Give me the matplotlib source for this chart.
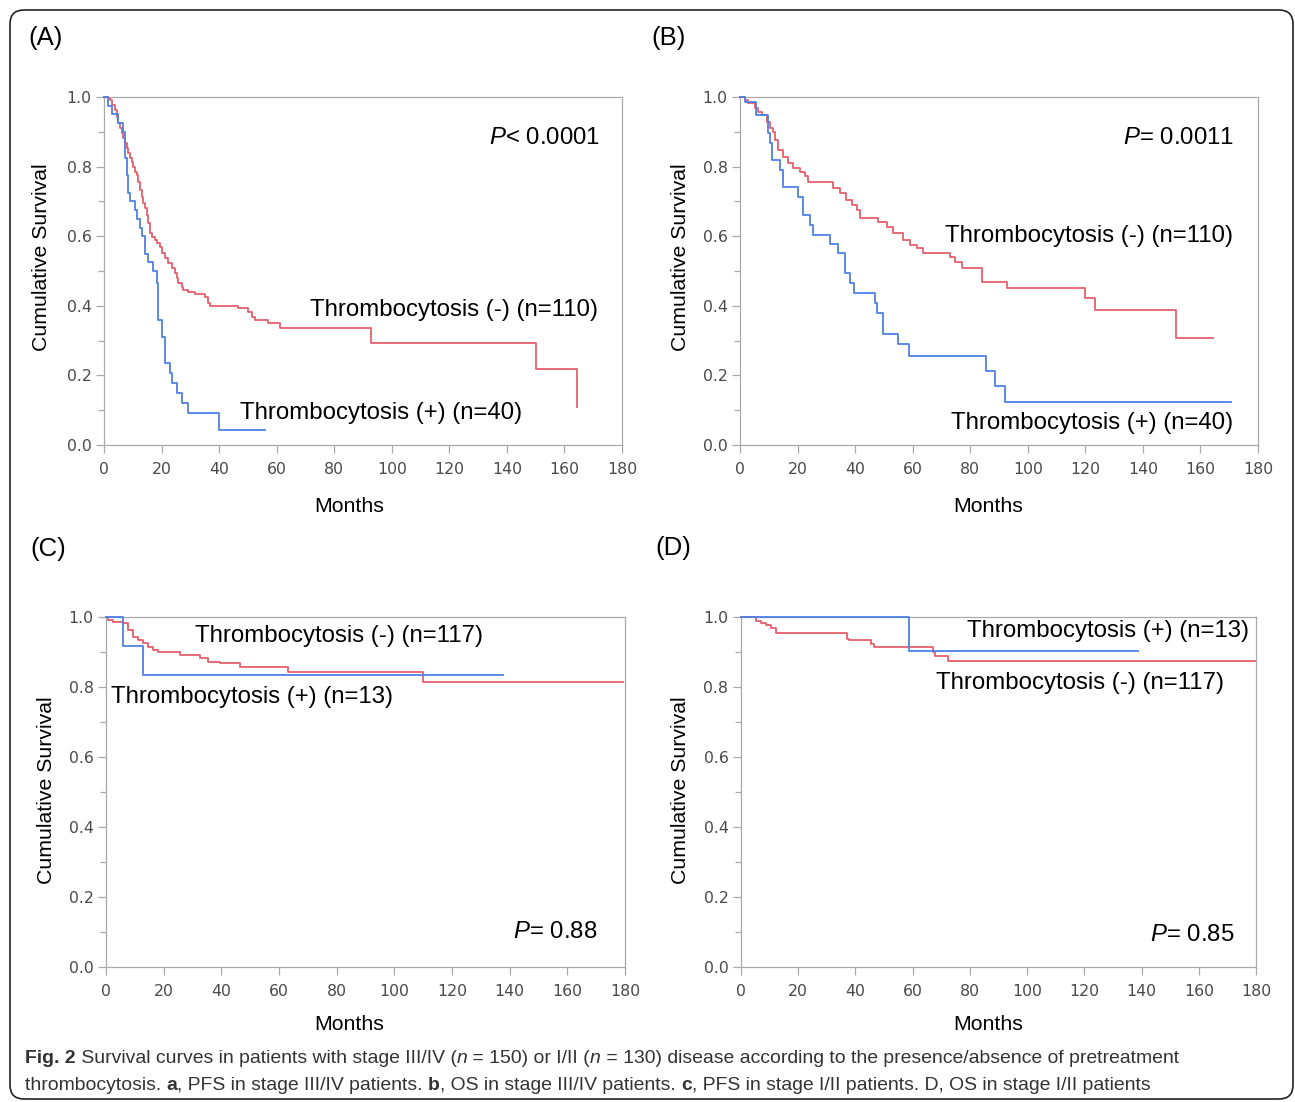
import matplotlib
matplotlib.use('Agg')
import matplotlib.pyplot as plt
from matplotlib import font_manager as fm
from matplotlib.patches import FancyBboxPatch
from matplotlib.ticker import MultipleLocator, FormatStrFormatter

W, H = 1295, 1102

# ---- data (months, cumulative survival) ----
a_neg_t = [0, 0.35, 1.5, 2.1, 2.7, 3.8, 4.4, 5.0, 5.6, 6.1, 6.7, 7.3, 7.9, 8.5, 9.0, 9.6, 10.2, 10.8,
           11.35, 11.9, 12.5, 13.1, 13.7, 14.2, 14.8, 15.4, 16.0, 16.6, 17.7, 18.3, 19.5, 20.0, 21.2,
           22.4, 23.5, 24.7, 25.3, 25.8, 27.0, 27.6, 29.3, 31.6, 35.1, 36.3, 36.8, 46.7, 50.2, 51.3,
           52.5, 57.1, 61.2, 92.8, 150.0, 164.2]
a_neg_s = [1.0, 1.0, 0.996, 0.991, 0.977, 0.963, 0.943, 0.924, 0.910, 0.896, 0.881, 0.867, 0.853,
           0.838, 0.824, 0.814, 0.800, 0.785, 0.776, 0.757, 0.733, 0.714, 0.694, 0.680, 0.661, 0.637,
           0.608, 0.599, 0.589, 0.580, 0.570, 0.551, 0.536, 0.522, 0.508, 0.493, 0.479, 0.466, 0.455,
           0.445, 0.439, 0.434, 0.426, 0.407, 0.399, 0.393, 0.383, 0.369, 0.359, 0.350, 0.337, 0.292,
           0.219, 0.108]
a_pos_t = [0, 1.5, 2.7, 4.9, 6.7, 7.3, 7.9, 8.4, 9.0, 10.8, 11.4, 12.5, 13.1, 14.2, 15.4, 17.1, 18.3,
           18.9, 20.0, 21.2, 22.9, 23.5, 25.2, 27.0, 29.3, 40.0, 56.0]
a_pos_s = [1.0, 0.975, 0.950, 0.925, 0.900, 0.825, 0.775, 0.725, 0.700, 0.675, 0.650, 0.625, 0.600,
           0.550, 0.525, 0.500, 0.465, 0.360, 0.311, 0.235, 0.206, 0.177, 0.149, 0.120, 0.091, 0.043,
           0.043]

b_neg_t = [0, 1.7, 2.9, 5.2, 6.4, 7.5, 9.3, 10.4, 11.6, 12.2, 13.3, 15.0, 16.8, 18.5, 20.8, 22.6, 23.7,
           32.4, 34.7, 37.0, 38.8, 40.5, 41.7, 48.0, 51.0, 53.3, 56.7, 59.1, 61.4, 63.7, 73.0, 74.7,
           77.0, 84.0, 92.7, 119.9, 123.3, 151.5, 164.5]
b_neg_s = [1.0, 0.991, 0.982, 0.968, 0.958, 0.948, 0.929, 0.910, 0.900, 0.876, 0.848, 0.828, 0.810,
           0.795, 0.785, 0.773, 0.757, 0.738, 0.723, 0.704, 0.690, 0.675, 0.651, 0.642, 0.627, 0.608,
           0.589, 0.575, 0.565, 0.553, 0.541, 0.527, 0.508, 0.469, 0.450, 0.421, 0.388, 0.308, 0.308]
b_pos_t = [0, 1.7, 5.6, 9.8, 10.4, 11.0, 13.9, 15.0, 20.3, 22.0, 24.3, 25.5, 31.3, 34.2, 36.5, 38.2,
           39.6, 46.9, 47.5, 49.6, 55.0, 58.8, 85.5, 88.6, 92.1, 170.5]
b_pos_s = [1.0, 0.987, 0.948, 0.896, 0.867, 0.819, 0.790, 0.742, 0.713, 0.661, 0.632, 0.603, 0.578,
           0.551, 0.493, 0.466, 0.438, 0.409, 0.380, 0.319, 0.289, 0.257, 0.213, 0.170, 0.125, 0.125]

c_neg_t = [0, 0.8, 2.5, 6.0, 7.7, 9.5, 11.2, 12.9, 14.7, 16.4, 18.2, 25.7, 32.6, 35.5, 39.5, 46.5,
           63.2, 110.1, 179.4]
c_neg_s = [1.0, 0.992, 0.987, 0.984, 0.963, 0.944, 0.934, 0.925, 0.915, 0.906, 0.901, 0.891, 0.882,
           0.872, 0.868, 0.858, 0.844, 0.815, 0.815]
c_pos_t = [0, 5.8, 12.9, 137.8]
c_pos_s = [1.0, 0.918, 0.833, 0.833]

d_neg_t = [0, 5.1, 6.9, 8.7, 10.5, 12.3, 37.0, 37.6, 45.4, 46.6, 67.0, 67.7, 72.5, 179.6]
d_neg_s = [1.0, 0.989, 0.982, 0.977, 0.968, 0.953, 0.938, 0.933, 0.923, 0.915, 0.899, 0.889, 0.874,
           0.874]
d_pos_t = [0, 58.6, 138.7]
d_pos_s = [1.0, 0.902, 0.902]

RED = '#e5606c'
BLUE = '#4d80e4'
GRID = '#a9a9a9'

fonts = {f.name for f in fm.fontManager.ttflist}
cap_font = 'Liberation Sans Narrow' if 'Liberation Sans Narrow' in fonts else 'Liberation Sans'

plt.rcParams['mathtext.fontset'] = 'custom'
plt.rcParams['mathtext.it'] = 'Liberation Sans:italic'
plt.rcParams['mathtext.rm'] = 'Liberation Sans'

fig = plt.figure(figsize=(W / 100, H / 100), dpi=100)

# overlay axes in pixel units, for the frame and outside labels
ov = fig.add_axes([0, 0, 1, 1])
ov.set_xlim(0, W)
ov.set_ylim(H, 0)
ov.axis('off')
ov.add_patch(FancyBboxPatch((10, 10), 1283, 1089, boxstyle='round,pad=0,rounding_size=14',
                            fc='none', ec='#222222', lw=1.2))


def px_rect(l, t, r, b):
    return [l / W, 1 - b / H, (r - l) / W, (b - t) / H]


def setup(ax):
    ax.set_xlim(0, 180)
    ax.set_ylim(0, 1.0)
    for sp in ax.spines.values():
        sp.set_color(GRID)
        sp.set_linewidth(0.9)
    ax.xaxis.set_major_locator(MultipleLocator(20))
    ax.yaxis.set_major_locator(MultipleLocator(0.2))
    ax.yaxis.set_minor_locator(MultipleLocator(0.1))
    ax.yaxis.set_major_formatter(FormatStrFormatter('%.1f'))
    ax.tick_params(which='major', length=6, width=0.9, color=GRID, labelcolor='#4a4a4a',
                   labelsize=11.3)
    ax.tick_params(axis='x', pad=6)
    ax.tick_params(axis='y', pad=3)
    ax.tick_params(which='minor', length=4, width=0.9, color=GRID)
    for lab in ax.get_xticklabels() + ax.get_yticklabels():
        lab.set_family('DejaVu Sans')


panels = [
    ('(A)', (104, 97, 622, 445), a_neg_t, a_neg_s, a_pos_t, a_pos_s),
    ('(B)', (740, 97, 1258, 445), b_neg_t, b_neg_s, b_pos_t, b_pos_s),
    ('(C)', (106, 617, 625, 967), c_neg_t, c_neg_s, c_pos_t, c_pos_s),
    ('(D)', (741, 617, 1256, 967), d_neg_t, d_neg_s, d_pos_t, d_pos_s),
]
axes = []
for name, rect, nt, ns, pt, ps in panels:
    ax = fig.add_axes(px_rect(*rect))
    setup(ax)
    ax.step(nt, ns, where='post', color=RED, lw=1.3, clip_on=False, zorder=3)
    ax.step(pt, ps, where='post', color=BLUE, lw=1.3, clip_on=False, zorder=3)
    axes.append(ax)

lab_kw = dict(family='Liberation Sans', fontsize=17.3, color='black')
p_kw = dict(family='Liberation Sans', fontsize=17.3, color='black')
axA, axB, axC, axD = axes

axA.text(172.3, 0.883, r'$\mathit{P}$< 0.0001', ha='right', va='center', **p_kw)
axA.text(171.6, 0.389, 'Thrombocytosis (-) (n=110)', ha='right', va='center', **lab_kw)
axA.text(145.2, 0.093, 'Thrombocytosis (+) (n=40)', ha='right', va='center', **lab_kw)

axB.text(171.6, 0.882, r'$\mathit{P}$= 0.0011', ha='right', va='center', **p_kw)
axB.text(171.3, 0.601, 'Thrombocytosis (-) (n=110)', ha='right', va='center', **lab_kw)
axB.text(171.3, 0.064, 'Thrombocytosis (+) (n=40)', ha='right', va='center', **lab_kw)

axC.text(30.9, 0.946, 'Thrombocytosis (-) (n=117)', ha='left', va='center', **lab_kw)
axC.text(1.7, 0.772, 'Thrombocytosis (+) (n=13)', ha='left', va='center', **lab_kw)
axC.text(170.3, 0.100, r'$\mathit{P}$= 0.88', ha='right', va='center', **p_kw)

axD.text(177.6, 0.961, 'Thrombocytosis (+) (n=13)', ha='right', va='center', **lab_kw)
axD.text(168.8, 0.812, 'Thrombocytosis (-) (n=117)', ha='right', va='center', **lab_kw)
axD.text(172.3, 0.091, r'$\mathit{P}$= 0.85', ha='right', va='center', **p_kw)

# outside labels in pixel coordinates
out_kw = dict(family='Liberation Sans', fontsize=15.3, color='black')
for x, y, s in [(28, 38, '(A)'), (651, 38, '(B)'), (30, 549, '(C)'), (655, 548, '(D)')]:
    ov.text(x, y, s, ha='left', va='center', family='Liberation Sans', fontsize=18.5)
for x, y in [(349, 507), (988, 507), (349, 1025), (988, 1025)]:
    ov.text(x, y, 'Months', ha='center', va='center', **out_kw)
for x, y in [(42, 257), (680, 257), (47, 790), (681, 790)]:
    ov.text(x, y, 'Cumulative Survival', ha='center', va='center', rotation=90, **out_kw)

# caption with mixed styles
renderer = fig.canvas.get_renderer()
cap_kw = dict(family=cap_font, fontsize=13.95, color='#333333')


def run_width(s, **kw):
    t1 = ov.text(0, 0, '|' + s + '|', **kw)
    t2 = ov.text(0, 0, '||', **kw)
    w = t1.get_window_extent(renderer).width - t2.get_window_extent(renderer).width
    t1.remove()
    t2.remove()
    return w


def draw_runs(x, y, runs):
    for s, weight, style in runs:
        kw = dict(cap_kw, weight=weight, style=style)
        ov.text(x, y, s, ha='left', va='baseline', **kw)
        x += run_width(s, **kw)


line1 = [('Fig. 2', 'bold', 'normal'),
         (' Survival curves in patients with stage III/IV (', 'normal', 'normal'),
         ('n', 'normal', 'italic'), (' = 150) or I/II (', 'normal', 'normal'),
         ('n', 'normal', 'italic'),
         (' = 130) disease according to the presence/absence of pretreatment', 'normal', 'normal')]
line2 = [('thrombocytosis. ', 'normal', 'normal'), ('a', 'bold', 'normal'),
         (', PFS in stage III/IV patients. ', 'normal', 'normal'), ('b', 'bold', 'normal'),
         (', OS in stage III/IV patients. ', 'normal', 'normal'), ('c', 'bold', 'normal'),
         (', PFS in stage I/II patients. D, OS in stage I/II patients', 'normal', 'normal')]
draw_runs(25, 1063, line1)
draw_runs(25, 1090, line2)

fig.savefig('out.png', dpi=100)
